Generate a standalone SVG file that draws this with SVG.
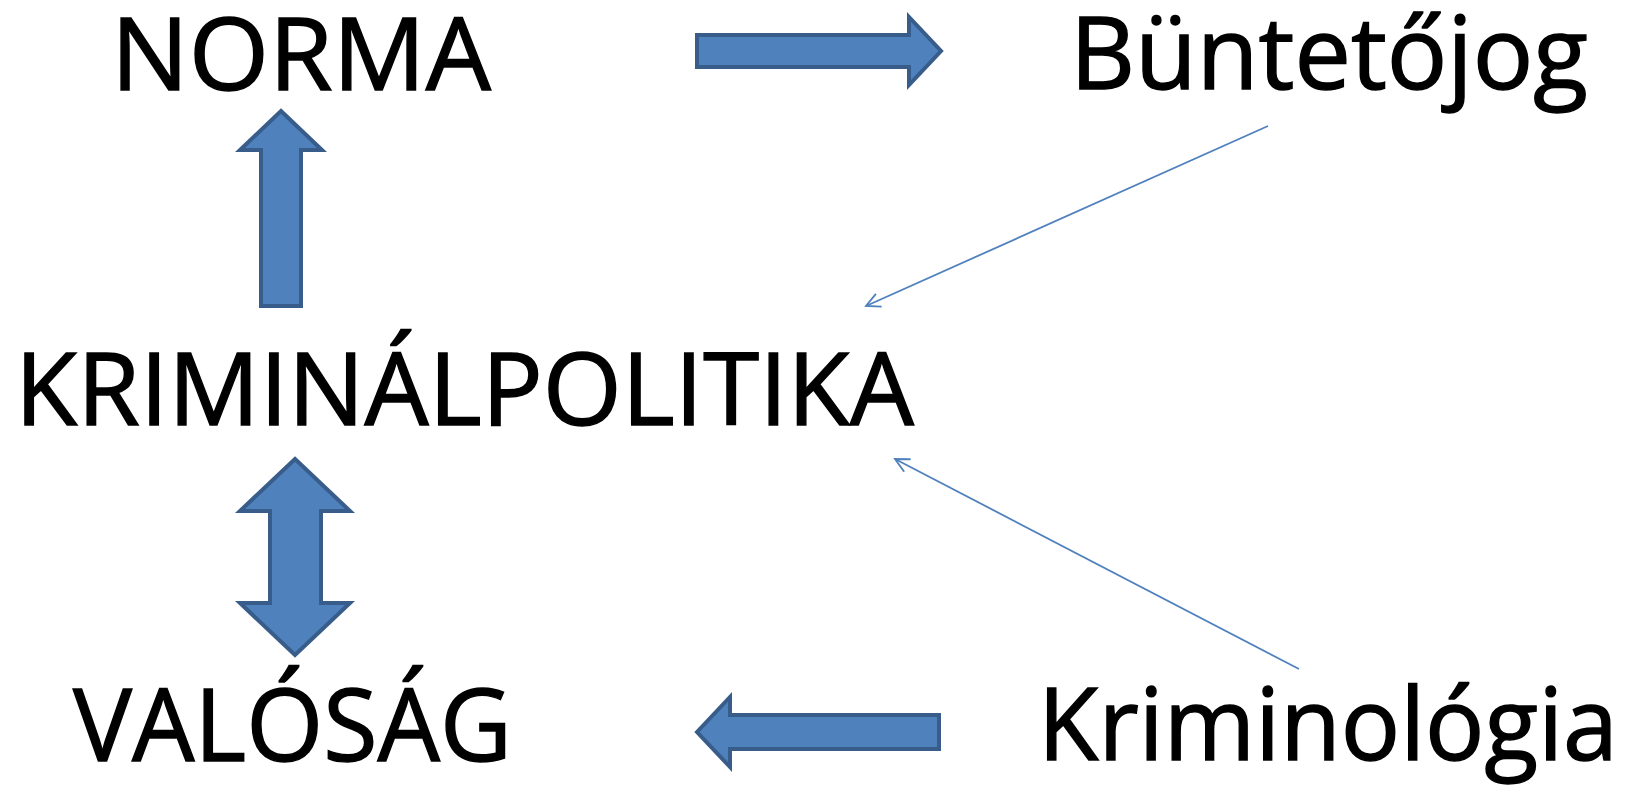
<svg xmlns="http://www.w3.org/2000/svg" width="1642" height="786" viewBox="0 0 1642 786">
<style>
  .lbl { font-family: "Open Sans", "Liberation Sans", sans-serif; font-size: 100px; fill: #000; stroke: #000; stroke-width: 1.4; }
  .block { fill: #4F81BD; stroke: #385D8A; stroke-width: 4; stroke-linejoin: miter; }
  .thin { fill: none; stroke: #4F81BD; stroke-width: 1.8; }
</style>
<defs>
  <marker id="open" viewBox="0 0 20 20" refX="18" refY="10" markerWidth="20" markerHeight="20" markerUnits="userSpaceOnUse" orient="auto">
    <path d="M4,3 L18,10 L4,17" fill="none" stroke="#4F81BD" stroke-width="1.8"/>
  </marker>
</defs>
<rect width="1642" height="786" fill="#fff"/>
<g id="norma"><text class="lbl" x="111" y="90" textLength="380" lengthAdjust="spacingAndGlyphs">NORMA</text></g>
<g id="buntetojog"><text class="lbl" x="1070" y="89" textLength="518" lengthAdjust="spacingAndGlyphs">Büntetőjog</text></g>
<g id="kriminalpolitika"><text class="lbl" x="15" y="425" textLength="899" lengthAdjust="spacingAndGlyphs">KRIMINÁLPOLITIKA</text></g>
<g id="valosag"><text class="lbl" x="73" y="761" textLength="439" lengthAdjust="spacingAndGlyphs">VALÓSÁG</text></g>
<g id="kriminologia"><text class="lbl" x="1038" y="760" textLength="580" lengthAdjust="spacingAndGlyphs">Kriminológia</text></g>
<g id="connectors">
  <path class="block" d="M697,35 L909,35 L909,17 L941,51 L909,85 L909,67 L697,67 Z"/>
  <path class="block" d="M281,111 L322,150 L301,150 L301,306 L261,306 L261,150 L240,150 Z"/>
  <path class="block" d="M295,459 L350,511 L321,511 L321,603 L350,603 L295,655 L240,603 L270,603 L270,511 L240,511 Z"/>
  <path class="block" d="M697,732 L730,697 L730,715 L939,715 L939,749 L730,749 L730,767 Z"/>
  <line class="thin" x1="1268" y1="126" x2="866" y2="306" marker-end="url(#open)"/>
  <line class="thin" x1="1299" y1="669" x2="895" y2="459" marker-end="url(#open)"/>
</g>
</svg>
